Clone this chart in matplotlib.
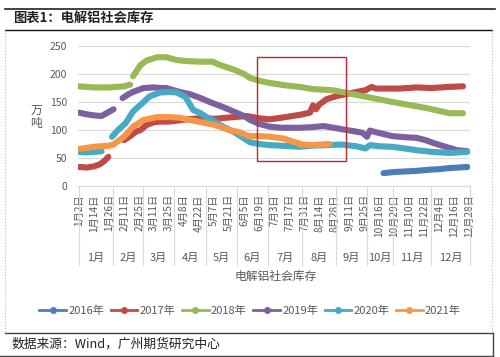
import numpy as np
import matplotlib
matplotlib.use("Agg")
import matplotlib.pyplot as plt
from matplotlib.lines import Line2D
from matplotlib.patches import Rectangle
import matplotlib.transforms as mtransforms

plt.rcParams['font.family'] = ['Noto Sans CJK SC', 'DejaVu Sans']

# ---- data (x = category index, 10 per labelled tick) ----
tick_labels = ["1月2日", "1月14日", "1月26日", "2月11日", "2月25日", "3月11日", "3月25日",
               "4月8日", "4月22日", "5月7日", "5月21日", "6月5日", "6月19日", "7月3日",
               "7月17日", "7月31日", "8月14日", "8月28日", "9月11日", "9月25日", "10月16日",
               "10月29日", "11月10日", "11月22日", "12月4日", "12月16日", "12月28日"]
months = ["1月", "2月", "3月", "4月", "5月", "6月", "7月", "8月", "9月", "10月", "11月", "12月"]
month_bounds = [0, 22.7, 42.7, 63.3, 84.7, 105.3, 126, 148.7, 171.3, 192, 209.3, 234.7, 260.7]

x2016 = [203, 210, 218, 225, 233, 240, 247, 253, 259]
v2016 = [23, 25, 26, 27, 29, 30, 32, 33, 34]

x2017 = [0, 5, 10, 14, 17, 19.5, 25, 30, 34, 38, 41, 45, 50, 54, 60, 66, 72, 81, 90, 103, 112,
         120, 127, 135, 147, 154, 156, 158, 160, 165, 171, 176, 185, 191, 195, 198, 205, 214,
         225, 235, 247, 256]
v2017 = [34, 33, 35, 39, 45, 52, np.nan, 82, 89, 97, 100, 109, 114, 115, 115, 117, 119, 121,
         120, 123, 125, 121, 119, 122, 127, 131, 144, 137, 145, 155, 160, 163, 168, 171, 177,
         174, 174, 174, 176, 175, 177, 178]

x2018 = [0, 10, 20, 30, 34, 35, 36, 41, 45, 52, 58, 65, 72, 81, 89, 94, 103, 110, 114, 120,
         127, 137, 147, 156, 169, 179, 192, 209, 232, 247, 256]
v2018 = [178, 176, 176, 178, 181, np.nan, 196, 216, 224, 230, 230, 225, 223, 222, 222, 216,
         208, 200, 193, 188, 184, 180, 177, 173, 171, 166, 159, 150, 139, 130, 130]

x2019 = [0, 5, 10, 15, 19, 23, 26, 29, 33, 36, 43, 50, 54, 58, 67, 74, 81, 89, 96, 103, 110,
         114, 120, 127, 135, 147, 155, 163, 170, 176, 183, 189, 192, 194, 198, 209, 218, 225,
         231, 236, 242, 252, 259]
v2019 = [131, 128, 126, 125, 131, 137, np.nan, 157, 164, 168, 175, 176, 175, 175, 168, 164,
         157, 148, 141, 133, 125, 118, 111, 106, 104, 104, 105, 107, 104, 101, 98, 95, 88, 99,
         96, 89, 87, 86, 82, 77, 72, 64, 62]

x2020 = [0, 5, 10, 15, 18, 22, 26, 31, 36, 41, 47, 54, 60, 65, 71, 76, 81, 85, 89, 94, 96, 103,
         110, 114, 120, 127, 135, 147, 155, 165, 175, 185, 191, 194, 200, 209, 217, 225, 235,
         247, 259]
v2020 = [61, 60, 61, 62, np.nan, 88, 100, 112, 133, 145, 160, 167, 168, 167, 159, 136, 130,
         123, 118, 109, 106, 97, 85, 78, 75, 73, 72, 70, 72, 73, 74, 71, 67, 73, 71, 70, 67,
         64, 61, 59, 61]

x2021 = [0, 5, 10, 15, 20, 23, 27, 30, 36, 43, 52, 60, 67, 74, 83, 89, 94, 100, 107, 113,
         120, 127, 136, 143, 149, 156, 167]
v2021 = [66, 68, 70, 71, 72, 74, 82, 88, 106, 118, 123, 123, 122, 118, 113, 110, 106, 100,
         96, 89, 89, 88, 85, 79, 74, 73, 75]

series = [("2016年", x2016, v2016, "#4A7EBB"),
          ("2017年", x2017, v2017, "#BE4B48"),
          ("2018年", x2018, v2018, "#98B954"),
          ("2019年", x2019, v2019, "#7D60A0"),
          ("2020年", x2020, v2020, "#46AAC5"),
          ("2021年", x2021, v2021, "#F79646")]

W, H = 500, 357
fig = plt.figure(figsize=(W / 100, H / 100), dpi=100)

def fx(px):
    return px / W

def fy(py):
    return 1 - py / H

ax_left, ax_right, ax_top, ax_bot = 78, 470, 46, 186
ax = fig.add_axes([fx(ax_left), fy(ax_bot), fx(ax_right - ax_left), (ax_bot - ax_top) / H])

for name, xs, vs, col in series:
    ax.plot(xs, vs, color=col, lw=4.4, solid_capstyle='round', solid_joinstyle='round', zorder=3)

ax.set_ylim(0, 250)
ax.set_xlim(-0.7, 260.7)
ax.set_yticks(np.arange(0, 251, 50))
ax.yaxis.grid(True, color='#D9D9D9', lw=0.8)
ax.set_axisbelow(True)
for s in ['top', 'right', 'left']:
    ax.spines[s].set_visible(False)
ax.spines['bottom'].set_color('#D9D9D9')
ax.tick_params(axis='y', length=0, pad=8, labelsize=7.5, labelcolor='#595959')
ax.set_xticks(np.arange(0, 261, 10))
ax.set_xticklabels(tick_labels, rotation=90, va='top', ha='center', fontsize=7.3, color='#595959')
ax.tick_params(axis='x', length=0, pad=6)

# month row
trans = mtransforms.blended_transform_factory(ax.transData, fig.transFigure)
for b in month_bounds:
    fig.add_artist(Line2D([b, b], [fy(186), fy(265)], transform=trans, color='#D9D9D9', lw=0.8))
for i, m in enumerate(months):
    c = (month_bounds[i] + month_bounds[i + 1]) / 2
    fig.text(c, fy(258), m, transform=trans, ha='center', va='center', fontsize=8, color='#595959')

fig.text(fx(276), fy(276), "电解铝社会库存", ha='center', va='center', fontsize=8.5, color='#595959')
fig.text(fx(36), fy(117), "万\n吨", ha='center', va='center', fontsize=8.5, color='#595959', linespacing=1.1)

# highlight rectangle
rect = Rectangle((118.7, 44.6), 178 - 118.7, 230 - 44.6, fill=False, edgecolor='#C0282D', lw=1.0,
                 clip_on=False, zorder=5)
ax.add_patch(rect)

# legend
handles = [Line2D([0], [0], color=c, lw=2, marker='o', ms=4) for _, _, _, c in series]
labels = [n for n, _, _, _ in series]
fig.legend(handles, labels, loc='center', bbox_to_anchor=(0.5, fy(311)), ncol=6, frameon=False,
           fontsize=8, labelcolor='#595959', handlelength=2.4, handletextpad=0.2, columnspacing=0.6)

# frame / title / source
fig.add_artist(Line2D([fx(5), fx(495)], [fy(9), fy(9)], color='#222222', lw=1.2))
fig.add_artist(Line2D([fx(5), fx(492)], [fy(30), fy(30)], color='#111111', lw=1.0))
fig.add_artist(Line2D([fx(5), fx(5)], [fy(30), fy(333)], color='#BBBBBB', lw=0.8, ls=':'))
fig.add_artist(Line2D([fx(492), fx(492)], [fy(30), fy(333)], color='#BBBBBB', lw=0.8, ls=':'))
fig.add_artist(Line2D([fx(5), fx(493)], [fy(333), fy(333)], color='#444444', lw=1.0))
fig.add_artist(Line2D([fx(493), fx(493)], [fy(333), fy(357)], color='#444444', lw=1.0))
fig.add_artist(Line2D([fx(0), fx(493)], [fy(355.5), fy(355.5)], color='#444444', lw=1.0))
fig.text(fx(13), fy(18), "图表1：电解铝社会库存", ha='left', va='center', fontsize=9.5,
         fontweight='bold', color='#222222')
fig.text(fx(12), fy(344), "数据来源：Wind，广州期货研究中心", ha='left', va='center', fontsize=9.2,
         color='#222222')

fig.savefig("out.png", dpi=100)
